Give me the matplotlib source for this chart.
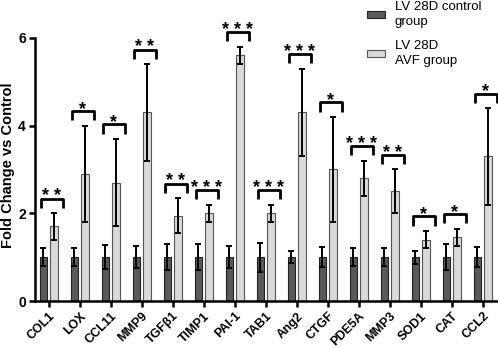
import matplotlib
matplotlib.use('Agg')
import matplotlib.pyplot as plt
import numpy as np

genes = ['COL1', 'LOX', 'CCL11', 'MMP9', 'TGFβ1', 'TIMP1', 'PAI-1', 'TAB1',
         'Ang2', 'CTGF', 'PDE5A', 'MMP3', 'SOD1', 'CAT', 'CCL2']
control_mean = [1.0] * 15
control_err = [0.2, 0.2, 0.27, 0.25, 0.3, 0.3, 0.25, 0.33, 0.14, 0.23, 0.2, 0.2, 0.15, 0.3, 0.23]
avf_mean = [1.7, 2.9, 2.7, 4.3, 1.95, 2.0, 5.6, 2.0, 4.3, 3.0, 2.8, 2.5, 1.4, 1.45, 3.3]
avf_err = [0.3, 1.1, 1.0, 1.1, 0.4, 0.2, 0.2, 0.2, 1.0, 1.2, 0.4, 0.5, 0.2, 0.2, 1.1]
stars = ['**', '*', '*', '**', '**', '***', '***', '***', '***', '*', '***', '**', '*', '*', '*']

plt.rcParams['font.family'] = ['Liberation Sans', 'DejaVu Sans']

fig = plt.figure(figsize=(4.98, 3.48), dpi=100)
ax = fig.add_axes([0.070, 0.135, 0.93, 0.756])

x = np.arange(len(genes))
w = 0.25
off = 0.175
ax.bar(x - off, control_mean, w, color='#595959', edgecolor='#222222', linewidth=0.8,
       label='LV 28D control\ngroup', zorder=2)
ax.bar(x + off, avf_mean, w, color='#d9d9d9', edgecolor='#555555', linewidth=0.8,
       label='LV 28D\nAVF group', zorder=2)
ax.errorbar(x - off, control_mean, yerr=control_err, fmt='none', ecolor='black',
            elinewidth=1.4, capsize=2, capthick=1.4, zorder=3)
ax.errorbar(x + off, avf_mean, yerr=avf_err, fmt='none', ecolor='black',
            elinewidth=1.4, capsize=2, capthick=1.4, zorder=3)

# significance brackets
for i in range(len(genes)):
    top = avf_mean[i] + avf_err[i]
    y0 = top + 0.12
    y1 = top + 0.33
    xl = x[i] - 0.25
    xr = x[i] + 0.45
    ax.plot([xl, xl, xr, xr], [y0, y1, y1, y0], color='black', lw=2,
            solid_capstyle='butt', clip_on=False, zorder=4)
    ax.text((xl + xr) / 2, y1 - 0.06, ' '.join(stars[i]), ha='center', va='baseline',
            fontsize=13, fontweight='bold', clip_on=False)

ax.set_xlim(-0.45, 14.49)
ax.set_ylim(0, 6)
ax.set_yticks([0, 2, 4, 6])
ax.set_xticks(x)
ax.set_xticklabels(genes, rotation=45, ha='right', va='top', rotation_mode='anchor',
                   fontsize=9, fontweight='bold')
for lab in ax.get_yticklabels():
    lab.set_fontweight('bold')
ax.tick_params(axis='y', labelsize=10, width=1.8, length=4.5, pad=2)
ax.tick_params(axis='x', width=1.8, length=4.5, pad=2)
ax.set_ylabel('Fold Change vs Control', fontsize=10.5, fontweight='bold')
ax.yaxis.set_label_coords(-0.042, 0.517)

for s in ['top', 'right']:
    ax.spines[s].set_visible(False)
for s in ['left', 'bottom']:
    ax.spines[s].set_linewidth(1.8)

leg = ax.legend(loc='upper left', bbox_to_anchor=(0.70, 1.17), frameon=False, fontsize=9.5,
                handlelength=1.35, handleheight=0.4, labelspacing=0.95, handletextpad=0.75,
                borderaxespad=0.2)
for t in leg.get_texts():
    t.set_linespacing(1.3)

fig.savefig('out.png', dpi=100)
